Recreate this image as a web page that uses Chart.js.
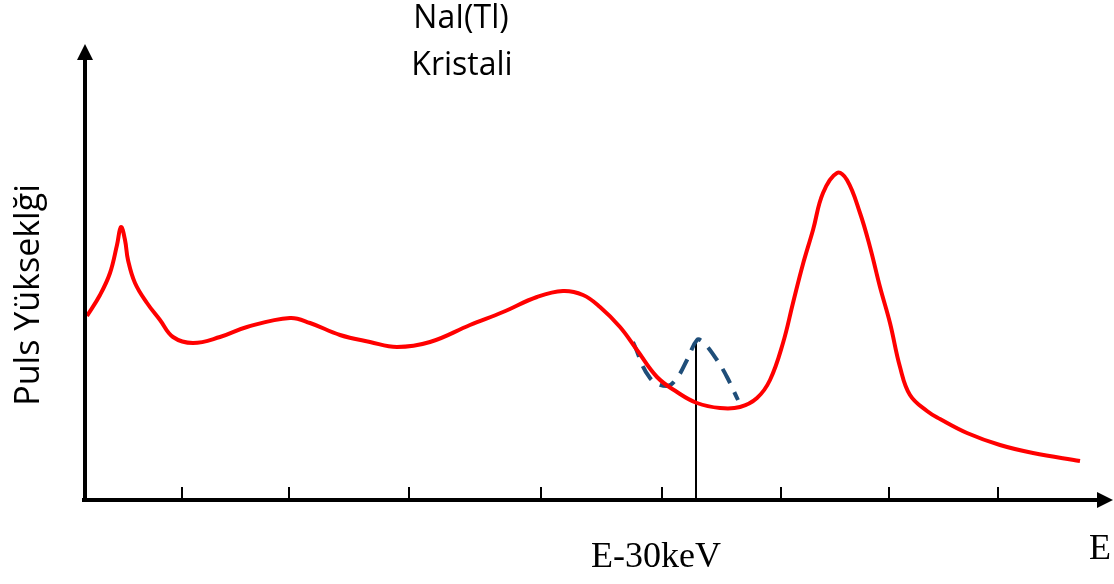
<!DOCTYPE html>
<html lang="tr">
<head>
    <meta charset="UTF-8">
    <title>NaI(Tl) Kristali</title>
    <script src="https://cdn.jsdelivr.net/npm/chart.js"></script>
    <style>
        body { margin: 0; background: #fff; }
        #chart-container { width: 1114px; height: 584px; }
    </style>
</head>
<body>
    <div id="chart-container"><canvas id="grafik" width="1114" height="584"></canvas></div>

    <script>
        // spektrum (kirmizi egri) - enerji kanali ve puls yuksekligi
        const enerji = [2, 15, 25, 32, 36, 40, 43, 50, 62, 75, 88, 108, 135, 162, 205, 225, 255, 285, 312, 345,
            385, 418, 452, 478, 498, 515, 535, 552, 572, 592, 612, 635, 655, 672, 685, 698, 708, 718, 728, 738,
            752, 762, 775, 785, 795, 805, 815, 825, 842, 855, 882, 915, 948, 995];
        const puls = [46, 51.25, 56.75, 63.75, 68.25, 65, 60, 54.25, 49.25, 45, 40.75, 39.25, 40.75, 43.25, 45.5, 44.25, 41.25, 39.5, 38.25, 39.5,
            43.75, 47, 50.75, 52.25, 51.25, 48.25, 43.25, 37.5, 30.75, 27, 24.25, 23, 23.25, 25.5, 30, 39.25, 49.25, 59, 67.5, 76.75,
            81.75, 80, 71.75, 63.25, 53.25, 44.25, 33.25, 26.25, 22.25, 20.25, 16.75, 13.75, 11.75, 9.75];

        // kesikli mavi egri
        const kesikEnerji = [548, 565, 582, 592, 602, 612, 618, 632, 642, 653];
        const kesikPuls = [39.5, 30.5, 28.5, 30.5, 35, 40, 39.5, 35, 30.75, 25];

        // E-30keV isaret cizgisi
        const isaretEnerji = 611;
        const isaretYukseklik = 39.75;

        // eksen uzerindeki kucuk cizgiler
        const tikler = [97, 204, 324, 456, 577, 696, 804, 913];

        const toPoints = (xs, ys) => xs.map((x, i) => ({ x: x, y: ys[i] }));

        const eksenPlugin = {
            id: 'eksenler',
            afterDatasetsDraw(chart) {
                const ctx = chart.ctx;
                const xs = chart.scales.x;
                const ys = chart.scales.y;
                const x0 = xs.getPixelForValue(0);
                const y0 = ys.getPixelForValue(0);

                ctx.save();
                ctx.strokeStyle = '#000';
                ctx.fillStyle = '#000';
                ctx.lineWidth = 4;

                // x ekseni
                ctx.beginPath();
                ctx.moveTo(x0 - 3, y0);
                ctx.lineTo(1100, y0);
                ctx.stroke();
                ctx.beginPath();
                ctx.moveTo(1113, y0);
                ctx.lineTo(1097, y0 - 8);
                ctx.lineTo(1097, y0 + 8);
                ctx.closePath();
                ctx.fill();

                // y ekseni
                ctx.beginPath();
                ctx.moveTo(x0, y0 + 2);
                ctx.lineTo(x0, 56);
                ctx.stroke();
                ctx.beginPath();
                ctx.moveTo(x0, 44);
                ctx.lineTo(x0 - 8, 60);
                ctx.lineTo(x0 + 8, 60);
                ctx.closePath();
                ctx.fill();

                // tikler
                ctx.lineWidth = 2;
                tikler.forEach(t => {
                    const px = xs.getPixelForValue(t);
                    ctx.beginPath();
                    ctx.moveTo(px, y0);
                    ctx.lineTo(px, y0 - 13);
                    ctx.stroke();
                });

                // yazilar
                ctx.textAlign = 'center';
                ctx.textBaseline = 'middle';
                ctx.font = '32px "Open Sans", sans-serif';
                ctx.fillText('NaI(Tl)', 461, 19);
                ctx.fillText('Kristali', 462, 66);

                ctx.save();
                ctx.translate(29, 295);
                ctx.rotate(-Math.PI / 2);
                ctx.font = '34px "Open Sans", sans-serif';
                ctx.fillText('Puls Yükseklği', 0, 0);
                ctx.restore();

                ctx.font = '36px "Liberation Serif", serif';
                ctx.fillText('E-30keV', 656, 558);
                ctx.fillText('E', 1100, 550);
                ctx.restore();
            }
        };

        const ctx = document.getElementById('grafik').getContext('2d');
        const grafik = new Chart(ctx, {
            type: 'line',
            data: {
                datasets: [
                    {
                        label: 'Spektrum',
                        data: toPoints(enerji, puls),
                        borderColor: '#ff0000',
                        borderWidth: 4,
                        pointRadius: 0,
                        tension: 0.4,
                        fill: false,
                        clip: false
                    },
                    {
                        label: 'Kesikli',
                        data: toPoints(kesikEnerji, kesikPuls),
                        borderColor: '#1f4e79',
                        borderWidth: 4,
                        borderDash: [16, 10],
                        pointRadius: 0,
                        tension: 0.4,
                        fill: false,
                        clip: false
                    },
                    {
                        label: 'E-30keV',
                        data: [{ x: isaretEnerji, y: 0 }, { x: isaretEnerji, y: isaretYukseklik }],
                        borderColor: '#000',
                        borderWidth: 2,
                        pointRadius: 0,
                        fill: false,
                        clip: false
                    }
                ]
            },
            options: {
                responsive: false,
                animation: false,
                layout: { padding: { left: 85, right: 29, top: 100, bottom: 84 } },
                plugins: {
                    legend: { display: false },
                    tooltip: { enabled: false }
                },
                scales: {
                    x: { type: 'linear', min: 0, max: 1000, display: false },
                    y: { min: 0, max: 100, display: false }
                }
            },
            plugins: [eksenPlugin]
        });
    </script>
</body>
</html>
